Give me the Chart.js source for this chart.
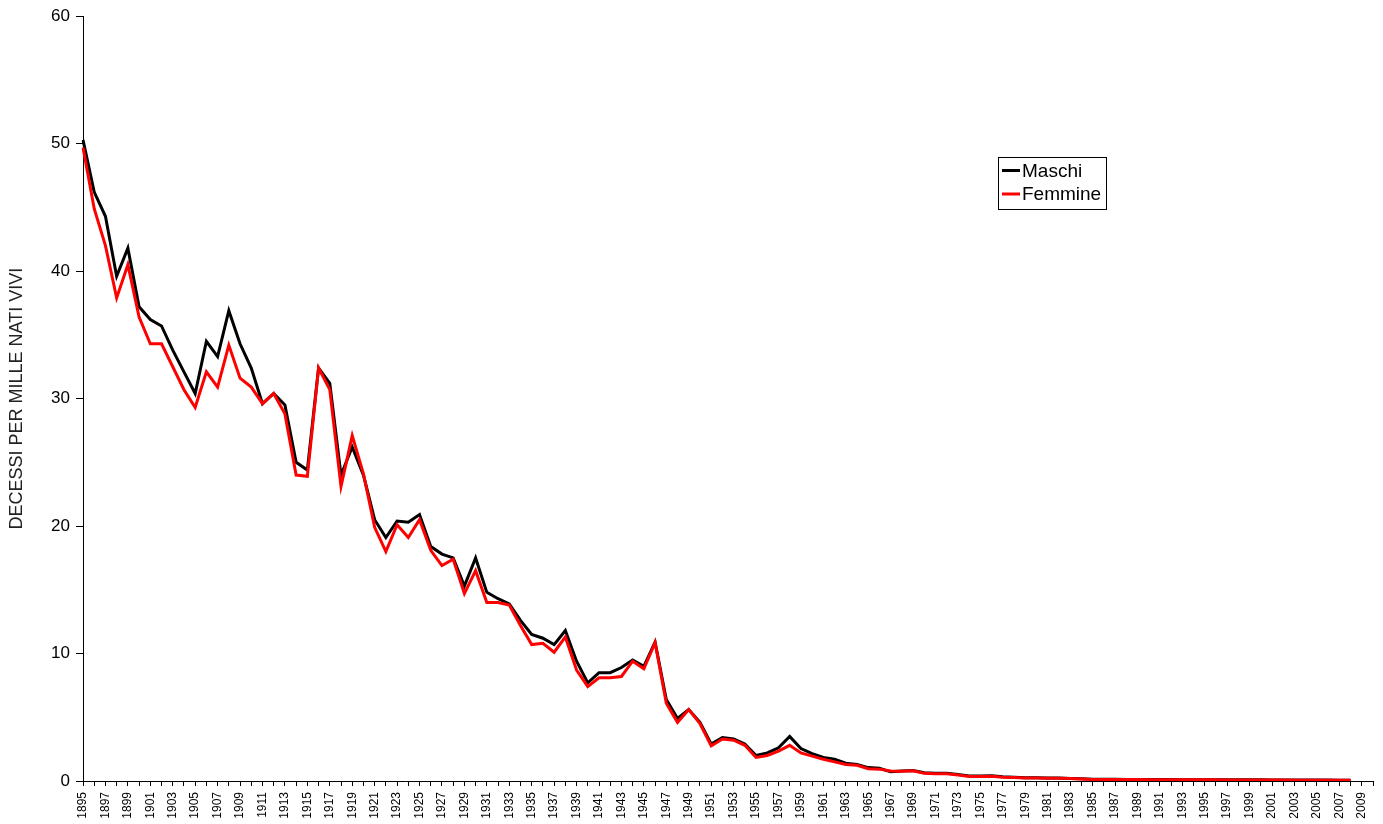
<!DOCTYPE html>
<html>
<head>
<meta charset="utf-8">
<script src="https://cdn.jsdelivr.net/npm/chart.js@4/dist/chart.umd.min.js"></script>
<style>
  html, body { margin: 0; padding: 0; background: #ffffff; }
  #wrap { width: 1383px; height: 824px; position: relative; }
</style>
</head>
<body>
<div id="wrap"><canvas id="c" width="1383" height="824"></canvas></div>
<script>
// Categories (years) — axis runs to 2010
const years = [1895,1896,1897,1898,1899,1900,1901,1902,1903,1904,1905,1906,1907,1908,1909,
  1910,1911,1912,1913,1914,1915,1916,1917,1918,1919,1920,1921,1922,1923,1924,1925,1926,1927,
  1928,1929,1930,1931,1932,1933,1934,1935,1936,1937,1938,1939,1940,1941,1942,1943,1944,1945,
  1946,1947,1948,1949,1950,1951,1952,1953,1954,1955,1956,1957,1958,1959,1960,1961,1962,1963,
  1964,1965,1966,1967,1968,1969,1970,1971,1972,1973,1974,1975,1976,1977,1978,1979,1980,1981,
  1982,1983,1984,1985,1986,1987,1988,1989,1990,1991,1992,1993,1994,1995,1996,1997,1998,1999,
  2000,2001,2002,2003,2004,2005,2006,2007,2008,2009,2010];

// Series values 1895–2008
const maschi = [50.3,46.2,44.3,39.6,41.8,37.2,36.2,35.7,33.8,32.1,30.4,34.5,33.3,36.9,34.3,
  32.4,29.6,30.4,29.5,25.0,24.4,32.4,31.2,24.0,26.2,24.0,20.5,19.1,20.4,20.3,20.9,18.4,17.8,
  17.5,15.3,17.5,14.8,14.3,13.9,12.6,11.5,11.2,10.7,11.8,9.4,7.7,8.5,8.5,8.9,9.5,9.0,
  10.9,6.4,4.9,5.6,4.6,2.9,3.4,3.3,2.9,2.0,2.2,2.6,3.5,2.55,2.15,1.85,1.7,1.4,
  1.3,1.05,1.0,0.72,0.78,0.82,0.65,0.6,0.6,0.52,0.4,0.4,0.42,0.34,0.3,0.26,0.25,0.24,
  0.23,0.2,0.18,0.14,0.13,0.13,0.12,0.12,0.11,0.11,0.11,0.1,0.1,0.1,0.1,0.09,0.09,0.09,
  0.09,0.08,0.08,0.07,0.07,0.07,0.07,0.06,0.06];

const femmine = [49.7,44.9,42.0,37.9,40.5,36.4,34.3,34.3,32.5,30.7,29.3,32.1,30.9,34.2,31.6,
  30.9,29.6,30.4,28.8,24.0,23.9,32.4,30.7,23.1,27.1,24.1,19.9,18.0,20.1,19.1,20.5,18.1,16.9,
  17.4,14.7,16.5,14.0,14.0,13.8,12.2,10.7,10.8,10.1,11.3,8.7,7.4,8.1,8.1,8.2,9.4,8.8,
  10.85,6.1,4.6,5.6,4.5,2.75,3.3,3.2,2.8,1.85,2.0,2.35,2.8,2.2,1.95,1.7,1.5,1.3,
  1.23,0.97,0.93,0.78,0.76,0.8,0.6,0.57,0.57,0.47,0.36,0.36,0.38,0.3,0.27,0.24,0.23,0.22,
  0.21,0.19,0.16,0.12,0.12,0.12,0.11,0.11,0.1,0.1,0.1,0.09,0.09,0.09,0.09,0.08,0.08,0.08,
  0.08,0.07,0.07,0.06,0.06,0.06,0.06,0.05,0.05];

const yTicks = [0,10,20,30,40,50,60];
const seriesNames = ['Maschi','Femmine'];
const yTitle = 'DECESSI PER MILLE NATI VIVI';

const FONT = "'Liberation Sans', Arial, Helvetica, sans-serif";

const boxLegend = {
  id: 'boxLegend',
  afterDraw(chart) {
    const ctx = chart.ctx;
    ctx.save();
    ctx.fillStyle = '#ffffff';
    ctx.fillRect(998.5, 157.5, 108, 52);
    ctx.strokeStyle = '#000000';
    ctx.lineWidth = 1;
    ctx.strokeRect(998.5, 157.5, 108, 52);
    ctx.font = '19px ' + FONT;
    ctx.textBaseline = 'middle';
    ctx.textAlign = 'left';
    chart.data.datasets.forEach((ds, i) => {
      const y = 170.5 + i * 23.5;
      ctx.strokeStyle = ds.borderColor;
      ctx.lineWidth = 3;
      ctx.beginPath();
      ctx.moveTo(1002, y);
      ctx.lineTo(1020, y);
      ctx.stroke();
      ctx.fillStyle = '#000000';
      ctx.fillText(ds.label, 1022, y + 1);
    });
    ctx.restore();
  }
};

new Chart(document.getElementById('c'), {
  type: 'line',
  data: {
    labels: years.map(String),
    datasets: [
      { label: seriesNames[0], data: maschi, borderColor: '#000000', backgroundColor: '#000000',
        borderWidth: 3, pointRadius: 0, tension: 0, fill: false, order: 1 },
      { label: seriesNames[1], data: femmine, borderColor: '#ff0000', backgroundColor: '#ff0000',
        borderWidth: 3, pointRadius: 0, tension: 0, fill: false, order: 0 }
    ]
  },
  options: {
    responsive: false,
    animation: false,
    events: [],
    layout: { padding: { top: 16, right: 10, left: 0, bottom: 0 } },
    plugins: {
      legend: { display: false },
      tooltip: { enabled: false },
      title: { display: false }
    },
    scales: {
      x: {
        type: 'category',
        offset: false,
        afterFit(scale) { scale.height = 43; scale.paddingRight = 0; scale.paddingLeft = 0; },
        grid: { display: true, drawOnChartArea: false, drawTicks: true, tickLength: 5, color: '#000000', lineWidth: 1 },
        border: { display: true, color: '#000000', width: 1 },
        ticks: {
          autoSkip: false,
          maxRotation: 90,
          minRotation: 90,
          padding: 6,
          color: '#000000',
          font: { family: FONT, size: 12 },
          callback(value, index) {
            const yr = years[index];
            return (yr % 2 === 1 && yr <= 2009) ? String(yr) : '';
          }
        }
      },
      y: {
        min: 0,
        max: 60,
        afterFit(scale) { scale.width = 83; },
        afterBuildTicks(scale) { scale.ticks = yTicks.map(v => ({ value: v })); },
        grid: { display: true, drawOnChartArea: false, drawTicks: true, tickLength: 7, color: '#000000', lineWidth: 1 },
        border: { display: true, color: '#000000', width: 1 },
        ticks: {
          stepSize: 10,
          padding: 6,
          color: '#000000',
          font: { family: FONT, size: 17 }
        },
        title: {
          display: true,
          text: yTitle,
          color: '#222222',
          font: { family: FONT, size: 18 },
          padding: { top: 6, bottom: 0 }
        }
      }
    }
  },
  plugins: [boxLegend]
});
</script>
</body>
</html>
